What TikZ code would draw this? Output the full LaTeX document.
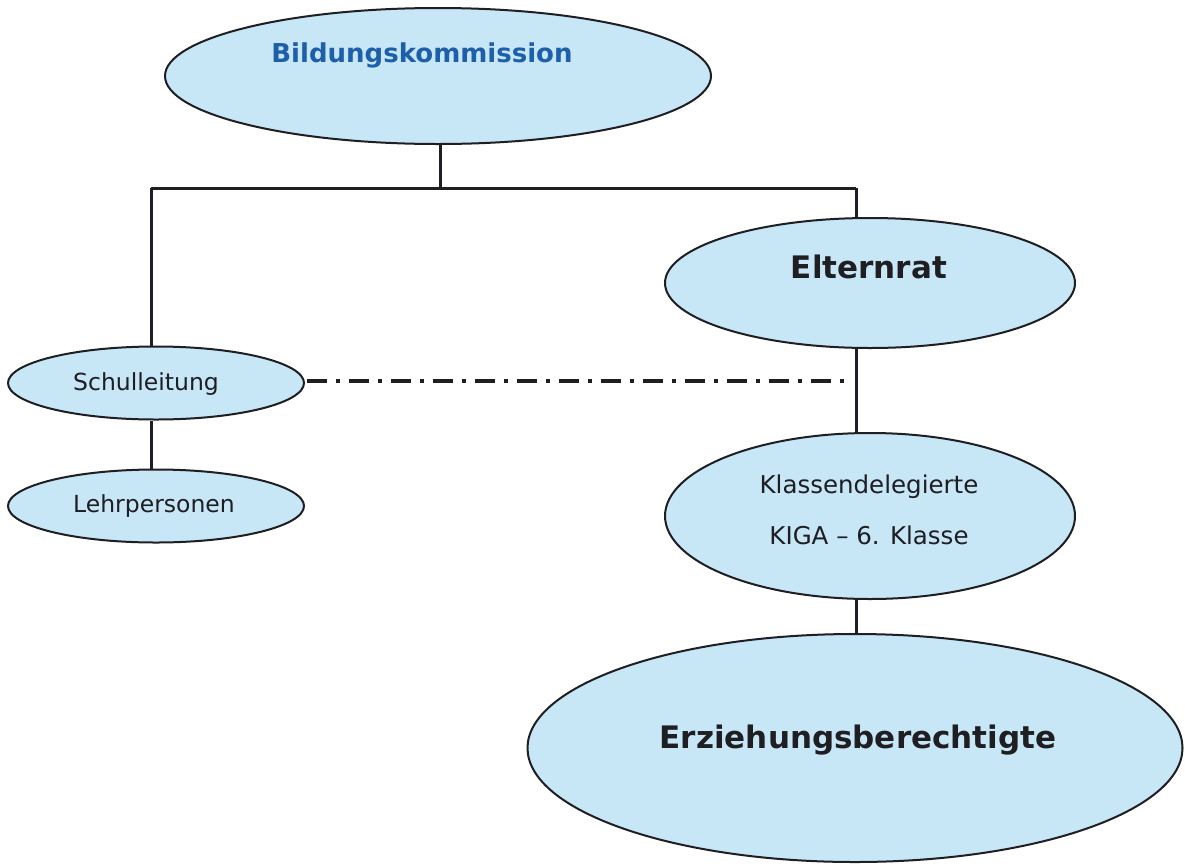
\documentclass[tikz,border=0pt]{standalone}
\usepackage{fontspec}
\setmainfont{DejaVu Sans}
\usetikzlibrary{shapes.geometric}
\definecolor{boxfill}{RGB}{199,230,246}
\definecolor{titleblue}{RGB}{30,95,170}
\definecolor{inkc}{RGB}{30,30,35}
\begin{document}
\begin{tikzpicture}[x=1pt,y=-1pt,
  oval/.style={ellipse, draw=inkc, line width=2pt, fill=boxfill, inner sep=0pt},
  link/.style={draw=inkc, line width=3pt},
  dashdot/.style={draw=inkc, line width=4pt, dash pattern=on 20pt off 9pt on 4pt off 9pt},
  lbl/.style={inner sep=0pt, text=inkc, anchor=center},
  biglbl/.style={lbl, font=\fontsize{31}{36}\selectfont\bfseries},
  smalllbl/.style={lbl, font=\fontsize{23.5}{28}\selectfont}
]
\useasboundingbox (0,0) rectangle (1185,865);
% ovals
\node[oval, minimum width=546pt, minimum height=136pt] (bk) at (438,76) {};
\node[oval, minimum width=410pt, minimum height=130pt] (er) at (870,283) {};
\node[oval, minimum width=296pt, minimum height=73pt] (sl) at (156,383) {};
\node[oval, minimum width=296pt, minimum height=73pt] (lp) at (156,506) {};
\node[oval, minimum width=410pt, minimum height=166pt] (kd) at (870,516) {};
\node[oval, minimum width=655pt, minimum height=228pt] (eb) at (855,748) {};
% labels
\node[lbl, text=titleblue, font=\fontsize{26}{30}\selectfont\bfseries] (tbk) at (422,55) {Bildungskommission};
\node[biglbl] (ter) at (869,267) {Elternrat};
\node[smalllbl] (tsl) at (146,384) {Schulleitung};
\node[smalllbl] (tlp) at (154,506) {Lehrpersonen};
\node[lbl, font=\fontsize{24.5}{29}\selectfont] (tkd1) at (869,487) {Klassendelegierte};
\node[lbl, font=\fontsize{24.5}{29}\selectfont] (tkd2) at (869,535) {KIGA – 6. Klasse};
\node[biglbl] (teb) at (858,740) {Erziehungsberechtigte};
% junctions
\coordinate (jT) at (440,188);
\coordinate (jL) at (151,188);
\coordinate (jR) at (856,188);
\coordinate (dEnd) at (848,381);
% connectors
\draw[link] (bk.south -| jT) -- (jT);
\draw[link] (jL) -- (jR);
\draw[link] (jL) -- (jL |- sl.north);
\draw[link] (jR) -- (jR |- er.north);
\draw[link] (jR |- er.south) -- (jR |- kd.north);
\draw[link] (jR |- kd.south) -- (jR |- eb.north);
\draw[link] (jL |- sl.south) -- (jL |- lp.north);
\draw[dashdot] (sl.east) ++(2,-2) coordinate (dStart) (dStart) -- (dEnd);
\end{tikzpicture}
\end{document}
